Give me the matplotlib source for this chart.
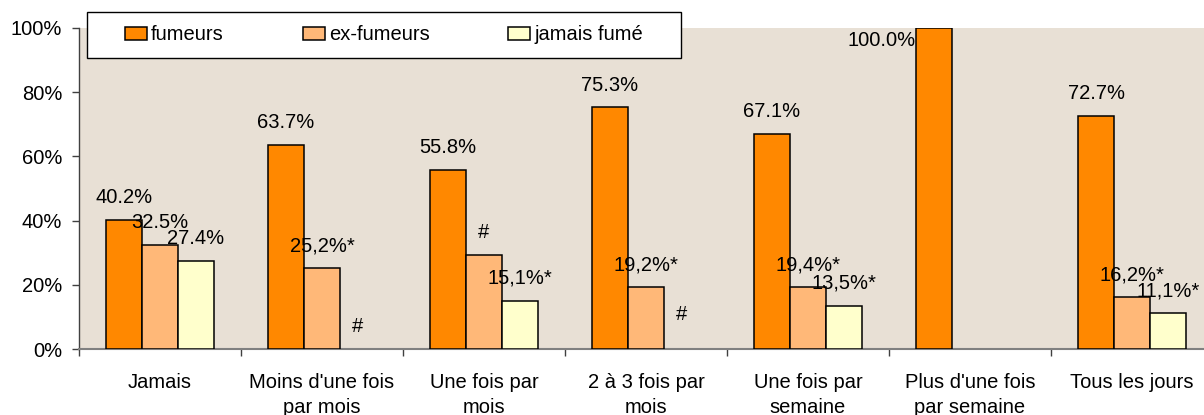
import numpy as np
import matplotlib
matplotlib.use("Agg")
import matplotlib.pyplot as plt
from matplotlib.patches import Rectangle

plt.rcParams['font.family'] = ['Liberation Sans', 'DejaVu Sans']

categories = ["Jamais", "Moins d'une fois\npar mois", "Une fois par\nmois",
              "2 à 3 fois par\nmois", "Une fois par\nsemaine",
              "Plus d'une fois\npar semaine", "Tous les jours"]
series_names = ["fumeurs", "ex-fumeurs", "jamais fumé"]
fumeurs = [40.2, 63.7, 55.8, 75.3, 67.1, 100.0, 72.7]
ex_fumeurs = [32.5, 25.2, 29.3, 19.2, 19.4, np.nan, 16.2]
jamais_fume = [27.4, np.nan, 15.1, np.nan, 13.5, np.nan, 11.1]
labels_fumeurs = ["40.2%", "63.7%", "55.8%", "75.3%", "67.1%", "100.0%", "72.7%"]
labels_ex = ["32.5%", "25,2%*", "#", "19,2%*", "19,4%*", "", "16,2%*"]
labels_jamais = ["27.4%", "#", "15,1%*", "#", "13,5%*", "", "11,1%*"]

colors = ["#FF8800", "#FFB878", "#FFFFCC"]
bg = "#E8E0D5"
FS = 14.5

fig = plt.figure(figsize=(12.04, 4.15), dpi=100)
ax = fig.add_axes([79/1204, 66/415, 1134/1204, 321/415])
ax.set_facecolor(bg)

x = np.arange(len(categories))
w = 0.222
series = [fumeurs, ex_fumeurs, jamais_fume]
labels = [labels_fumeurs, labels_ex, labels_jamais]
# label nudges (series, category) -> (dx, dy) in points
extra = {(2, 3): (0, 9), (0, 5): (-38, -25)}

for i, (vals, labs, col) in enumerate(zip(series, labels, colors)):
    xs = x + (i - 1) * w
    v = np.array(vals, dtype=float)
    ax.bar(xs, v, width=w, color=col, edgecolor="black", linewidth=1.1,
           label=series_names[i], zorder=3)
    for j, (xx, vv, lab) in enumerate(zip(xs, v, labs)):
        if not lab:
            continue
        base = 0 if np.isnan(vv) else vv
        dx, dy = extra.get((i, j), (0, 0))
        ax.annotate(lab, (xx, base), xytext=(dx, 16 + dy), textcoords="offset points",
                    ha="center", va="center", fontsize=FS, color="black",
                    zorder=5, annotation_clip=False)

ax.set_xlim(-0.5, len(categories) - 0.5)
ax.set_ylim(0, 100)
ax.set_yticks([0, 20, 40, 60, 80, 100])
ax.set_yticklabels(["0%", "20%", "40%", "60%", "80%", "100%"], fontsize=FS)

ax.set_xticks(np.arange(-0.5, len(categories), 1.0))
ax.set_xticklabels([])
ax.set_xticks(x, minor=True)
ax.set_xticklabels(categories, minor=True, fontsize=FS, linespacing=1.45,
                   va="top")
ax.tick_params(axis="x", which="minor", length=0, pad=17)
ax.tick_params(axis="x", which="major", length=5, width=1, color="#404040",
               direction="out")
ax.tick_params(axis="y", length=5, width=1, color="#404040", direction="out",
               pad=7)

for s in ["top", "right"]:
    ax.spines[s].set_visible(False)
ax.spines["left"].set_color("#404040")
ax.spines["bottom"].set_color("#808080")
ax.spines["left"].set_linewidth(1)
ax.spines["bottom"].set_linewidth(1.5)

# legend box
x0, y0, x1, y1 = 87, 12, 681, 58
fig.patches.append(Rectangle((x0/1204, 1 - y1/415), (x1 - x0)/1204, (y1 - y0)/415,
                             transform=fig.transFigure, facecolor="white",
                             edgecolor="black", linewidth=1.0, zorder=10))
leg = fig.legend(loc="center", bbox_to_anchor=((x0 + x1)/2/1204, 1 - (y0 + y1)/2/415),
                 ncol=3, frameon=False, fontsize=FS, handlelength=1.1,
                 handleheight=0.6, handletextpad=0.2, columnspacing=3.9)
leg.set_zorder(11)

fig.savefig("out.png", dpi=100)
